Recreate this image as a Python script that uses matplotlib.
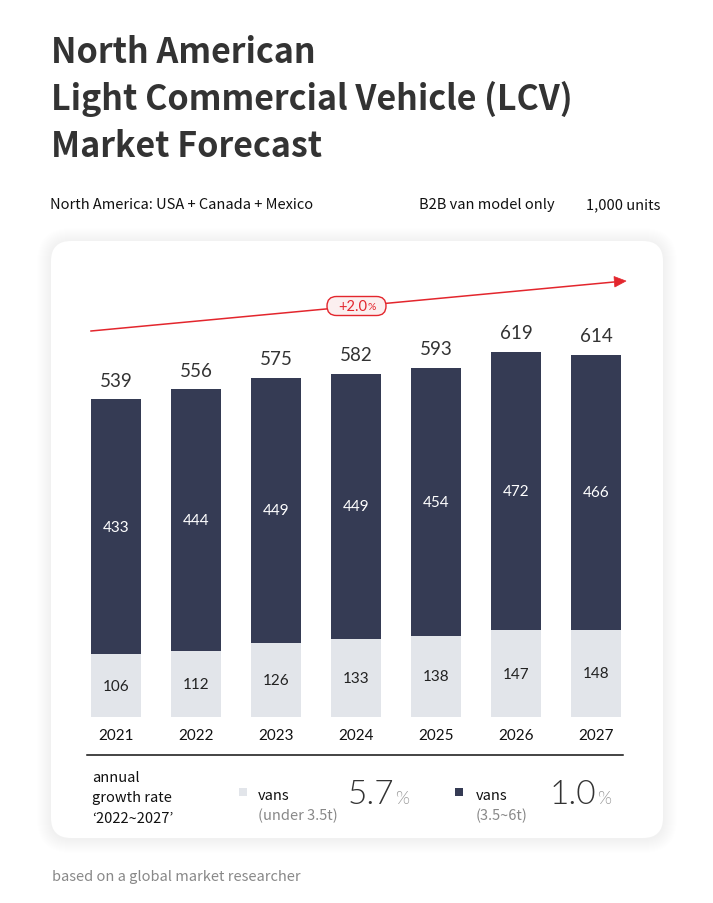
import matplotlib
matplotlib.use('Agg')
import matplotlib.pyplot as plt
from matplotlib.patches import FancyBboxPatch, Rectangle
import numpy as np

years = ['2021', '2022', '2023', '2024', '2025', '2026', '2027']
light_vans = [106, 112, 126, 133, 138, 147, 148]     # under 3.5t
heavy_vans = [433, 444, 449, 449, 454, 472, 466]     # 3.5~6t
totals = [539, 556, 575, 582, 593, 619, 614]
cagr_total = '+2.0'
cagr_light = '5.7'
cagr_heavy = '1.0'

LIGHT = '#e2e5ea'
DARK = '#353b54'
RED = '#e3262d'
KR = 'Noto Sans CJK KR'
LATO = 'Lato'

W, H = 713, 904
fig = plt.figure(figsize=(W / 100, H / 100), dpi=100)
fig.patch.set_facecolor('white')
T = fig.dpi_scale_trans


def ix(x):
    return x / 100


def iy(y):
    return (H - y) / 100


def txt(x, y, s, **kw):
    return fig.text(ix(x), iy(y), s, transform=T, **kw)


# title block
title_lines = ['North American', 'Light Commercial Vehicle (LCV)', 'Market Forecast']
for i, line in enumerate(title_lines):
    txt(51, 63 + i * 47, line, family=KR, weight='bold', fontsize=24.5,
        color='#333333', va='baseline')

txt(50, 209, 'North America: USA + Canada + Mexico', family=KR, fontsize=10.5,
    color='#111111', va='baseline')
txt(419, 209, 'B2B van model only', family=KR, fontsize=10.5, color='#111111', va='baseline')
txt(586, 209, '1,000 units', family=KR, fontsize=10.5, color='#111111', va='baseline')

# card with soft shadow
cx0, cy0, cx1, cy1 = 51, 242, 663, 839
for k in range(14, 0, -1):
    sh = FancyBboxPatch((ix(cx0) - k / 100, iy(cy1) - k / 100 - 0.01),
                        (cx1 - cx0) / 100 + 2 * k / 100, (cy1 - cy0) / 100 + 2 * k / 100,
                        boxstyle='round,pad=0,rounding_size=%f' % ((20 + k) / 100),
                        transform=T, facecolor='#000000', edgecolor='none',
                        alpha=0.003, zorder=0)
    fig.patches.append(sh)
card = FancyBboxPatch((ix(cx0), iy(cy1)), (cx1 - cx0) / 100, (cy1 - cy0) / 100,
                      boxstyle='round,pad=0,rounding_size=0.2', transform=T,
                      facecolor='white', edgecolor='none', zorder=1)
fig.patches.append(card)

# bar chart
px_per_unit = 0.59
ax_left, ax_right, ax_bottom, ax_top = 76, 636, 718, 260
ax = fig.add_axes([ax_left / W, 1 - ax_bottom / H, (ax_right - ax_left) / W,
                   (ax_bottom - ax_top) / H])
ax.set_facecolor('none')
ax.set_zorder(2)
x = np.arange(len(years))
ax.bar(x, light_vans, width=0.625, color=LIGHT)
ax.bar(x, heavy_vans, width=0.625, bottom=light_vans, color=DARK)
ax.set_xlim(-0.5, len(years) - 0.5)
ax.set_ylim(0, (ax_bottom - ax_top) / px_per_unit)
ax.axis('off')

for i in range(len(years)):
    ax.text(x[i], light_vans[i] / 2, str(light_vans[i]), ha='center', va='center',
            family=LATO, fontsize=11, color='#222222')
    ax.text(x[i], light_vans[i] + heavy_vans[i] / 2, str(heavy_vans[i]), ha='center',
            va='center', family=LATO, fontsize=11, color='white')
    ax.text(x[i], totals[i] + 32, str(totals[i]), ha='center', va='center',
            family=LATO, fontsize=13.5, color='#333333')
    ax.text(x[i], -30, years[i], ha='center', va='center', family=LATO,
            fontsize=11, color='#111111')

# trend arrow + pill
fig.add_artist(plt.Line2D([ix(91), ix(614)], [iy(332), iy(283)], transform=T,
                          color=RED, lw=1.1, zorder=3))
fig.patches.append(plt.Polygon([[ix(626), iy(282)], [ix(614), iy(277.5)], [ix(614.8), iy(288)]],
                               closed=True, transform=T, facecolor=RED, edgecolor=RED,
                               lw=0.5, zorder=3))
pill = FancyBboxPatch((ix(327), iy(316.5)), 0.59, 0.19,
                      boxstyle='round,pad=0,rounding_size=0.095', transform=T,
                      facecolor='#fbefef', edgecolor=RED, lw=1.0, zorder=4)
fig.patches.append(pill)
txt(367, 307, cagr_total, family=LATO, fontsize=10.5, color=RED, ha='right',
    va='center', zorder=5)
txt(367.5, 308, '%', family=LATO, fontsize=7.5, color=RED, ha='left',
    va='center', zorder=5)

# divider
fig.add_artist(plt.Line2D([ix(87), ix(623)], [iy(756), iy(756)], transform=T,
                          color='#111111', lw=1.1, zorder=3))

# growth rate footer in card
for i, line in enumerate(['annual', 'growth rate', '\u20182022~2027\u2019']):
    txt(92, 782 + i * 20.5, line, family=KR, fontsize=10.5, color='#111111',
        va='baseline', zorder=5)

fig.patches.append(Rectangle((ix(239), iy(797)), 0.08, 0.08, transform=T,
                             facecolor=LIGHT, edgecolor='none', zorder=5))
txt(258, 800, 'vans', family=KR, fontsize=10.5, color='#111111', va='baseline', zorder=5)
txt(258, 820, '(under 3.5t)', family=KR, fontsize=10.5, color='#888888', va='baseline',
    zorder=5)
txt(394, 804, cagr_light, family=LATO, fontsize=24, weight=300, color='#333333',
    ha='right', va='baseline', zorder=5)
txt(395, 804, '%', family=LATO, fontsize=13, weight=300, color='#999999',
    va='baseline', zorder=5)

fig.patches.append(Rectangle((ix(455), iy(797)), 0.08, 0.08, transform=T,
                             facecolor=DARK, edgecolor='none', zorder=5))
txt(476, 800, 'vans', family=KR, fontsize=10.5, color='#111111', va='baseline', zorder=5)
txt(476, 820, '(3.5~6t)', family=KR, fontsize=10.5, color='#888888', va='baseline',
    zorder=5)
txt(596, 804, cagr_heavy, family=LATO, fontsize=24, weight=300, color='#333333',
    ha='right', va='baseline', zorder=5)
txt(597, 804, '%', family=LATO, fontsize=13, weight=300, color='#999999',
    va='baseline', zorder=5)

txt(52, 881, 'based on a global market researcher', family=KR, fontsize=10.5,
    color='#888888', va='baseline')

fig.savefig('out.png', dpi=100)
